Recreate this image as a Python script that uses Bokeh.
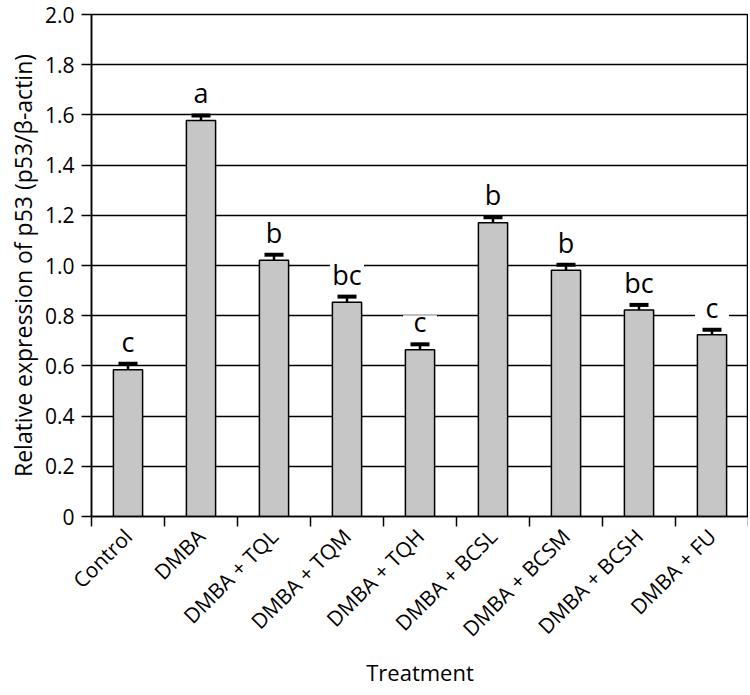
import math
from bokeh.plotting import figure
from bokeh.models import ColumnDataSource, FixedTicker, Whisker, TeeHead, LabelSet, Range1d
from bokeh.core.properties import value
from bokeh.embed import file_html
from bokeh.resources import INLINE

categories = ["Control", "DMBA", "DMBA + TQL", "DMBA + TQM", "DMBA + TQH",
              "DMBA + BCSL", "DMBA + BCSM", "DMBA + BCSH", "DMBA + FU"]
values = [0.585, 1.578, 1.021, 0.854, 0.664, 1.17, 0.981, 0.823, 0.724]
errors = [0.024, 0.02, 0.022, 0.022, 0.022, 0.022, 0.022, 0.02, 0.02]
letters = ["c", "a", "b", "bc", "c", "b", "b", "bc", "c"]
y_ticks = [0, 0.2, 0.4, 0.6, 0.8, 1.0, 1.2, 1.4, 1.6, 1.8, 2.0]

FONT = "Open Sans"
FRAME_H = 502
Y_MAX = 2.0
PX = Y_MAX / FRAME_H          # data units per screen pixel
LETTER_OFFSET = 12            # px between error bar top and letter baseline
MASK_W = 34                   # px width of the white mask behind each letter

xs = [i + 0.5 for i in range(len(categories))]
upper = [v + e for v, e in zip(values, errors)]
box_h = [25 if "b" in s else 19 for s in letters]
src = ColumnDataSource(dict(
    x=xs, top=values, upper=upper,
    lower=[v - e for v, e in zip(values, errors)],
    letter=letters,
    box_y=[u + (LETTER_OFFSET - 2 + h / 2) * PX for u, h in zip(upper, box_h)],
    box_h=box_h,
))

p = figure(frame_width=657, frame_height=FRAME_H, output_backend="svg", toolbar_location=None,
           x_range=Range1d(0, len(categories)), y_range=Range1d(0, Y_MAX),
           min_border_left=91, min_border_right=0, min_border_top=14,
           min_border_bottom=170)
p.outline_line_color = "black"
p.outline_line_width = 1.5
p.background_fill_color = "white"

p.vbar(x="x", top="top", width=0.4, bottom=0, source=src,
       fill_color="#c6c6c6", line_color="black", line_width=1.5)

p.add_layout(Whisker(base="x", upper="upper", lower="lower", source=src,
                     line_color="black", line_width=2.5,
                     upper_head=TeeHead(size=19, line_width=4, line_color="black"),
                     lower_head=TeeHead(size=19, line_width=4, line_color="black")))

# white masks behind the significance letters (they hide the grid lines)
p.rect(x="x", y="box_y", width=MASK_W, height="box_h", width_units="screen",
       height_units="screen", source=src, fill_color="white", line_color=None)

p.add_layout(LabelSet(x="x", y="upper", text="letter", source=src,
                      y_offset=LETTER_OFFSET, text_align="center", text_baseline="alphabetic",
                      text_font=value(FONT), text_font_size=value("27px"), text_color="black"))

# axes
p.xgrid.grid_line_color = None
p.ygrid.grid_line_color = "black"
p.ygrid.grid_line_width = 1.5
p.ygrid.ticker = FixedTicker(ticks=y_ticks)

p.yaxis.ticker = FixedTicker(ticks=y_ticks)
p.yaxis.major_label_overrides = {t: ("0" if t == 0 else f"{t:.1f}") for t in y_ticks}
p.yaxis.major_tick_in = 0
p.yaxis.major_tick_out = 10
p.yaxis.minor_tick_line_color = None
p.yaxis.axis_label = "Relative expression of p53 (p53/β-actin)"

p.xaxis.ticker = FixedTicker(ticks=xs, minor_ticks=list(range(len(categories) + 1)))
p.xaxis.major_label_overrides = {x: c for x, c in zip(xs, categories)}
p.xaxis.major_tick_line_color = None
p.xaxis.minor_tick_line_color = "black"
p.xaxis.minor_tick_line_width = 1.5
p.xaxis.minor_tick_in = 0
p.xaxis.minor_tick_out = 10
p.xaxis.major_label_orientation = math.pi / 4
p.xaxis.axis_label = "Treatment"

for ax in (p.xaxis, p.yaxis):
    ax.axis_line_color = "black"
    ax.axis_line_width = 1.5
    ax.major_tick_line_width = 1.5
    ax.major_label_text_font = FONT
    ax.major_label_text_color = "black"
    ax.axis_label_text_font = FONT
    ax.axis_label_text_font_style = "normal"
    ax.axis_label_text_color = "black"

p.yaxis.major_label_text_font_size = "21px"
p.xaxis.major_label_text_font_size = "21px"
p.yaxis.axis_label_text_font_size = "23px"
p.xaxis.axis_label_text_font_size = "22px"

p.yaxis.major_label_standoff = 7
p.yaxis.axis_label_standoff = 3
p.xaxis.major_label_standoff = 6
p.xaxis.axis_label_standoff = 2

open("out.html", "w").write(file_html(p, INLINE))
